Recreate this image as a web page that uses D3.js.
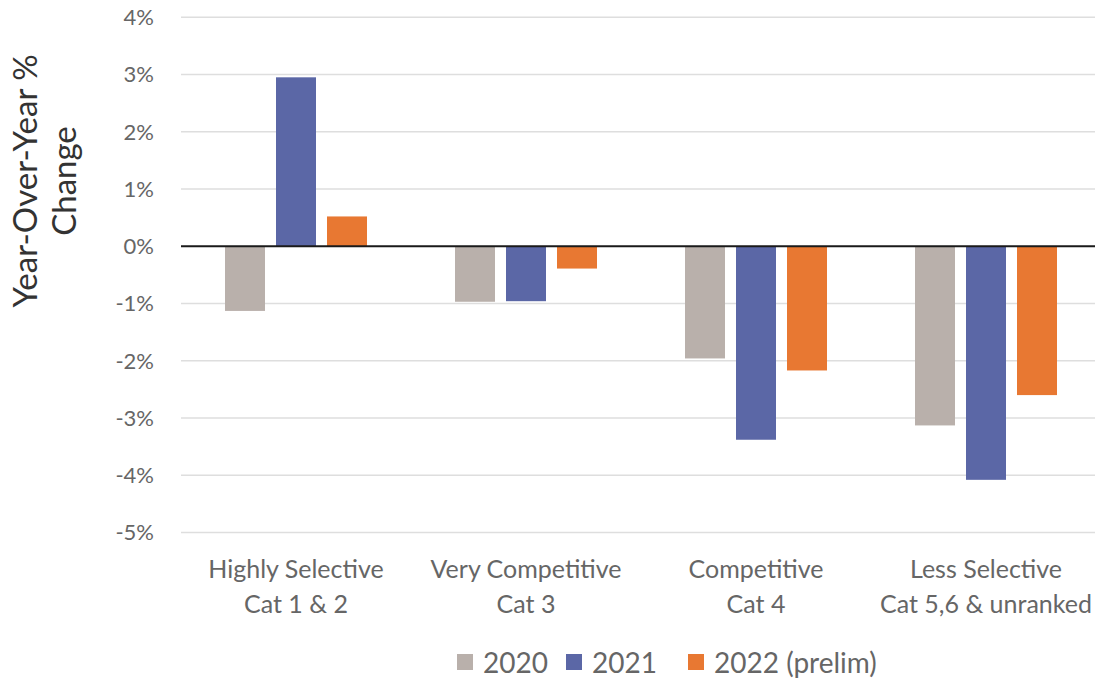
<!DOCTYPE html>
<html lang="en">
<head>
    <meta charset="UTF-8">
    <title>Year-Over-Year % Change</title>
    <script src="https://cdnjs.cloudflare.com/ajax/libs/d3/7.8.5/d3.min.js"></script>
    <style>
        body { margin: 0; background: #fff; }
        text { font-family: Lato, "Open Sans", sans-serif; }
    </style>
</head>
<body>
    <div id="chart"></div>
    <script>
        // data
        var categories = ["Highly Selective|Cat 1 & 2", "Very Competitive|Cat 3", "Competitive|Cat 4", "Less Selective|Cat 5,6 & unranked"];
        var seriesNames = ["2020", "2021", "2022 (prelim)"];
        var values2020 = [-1.13, -0.97, -1.96, -3.13];
        var values2021 = [2.95, -0.96, -3.38, -4.08];
        var values2022 = [0.52, -0.39, -2.17, -2.60];
        var yTicks = [4, 3, 2, 1, 0, -1, -2, -3, -4, -5];
        var colors = ["#b9b0ab", "#5b67a6", "#e87832"];

        var width = 1095, height = 683;
        var series = [values2020, values2021, values2022];

        var svg = d3.select("#chart").append("svg")
            .attr("width", width)
            .attr("height", height);

        var y = d3.scaleLinear().domain([-5, 4]).range([532.5, 17.2]);
        var x = d3.scaleBand().domain(categories).range([181, 1101]);
        var xInner = d3.scaleBand().domain(seriesNames).range([0, x.bandwidth()])
            .paddingInner(11 / 51).paddingOuter(0.8627);

        // gridlines
        svg.append("g").selectAll("line")
            .data(yTicks.filter(function(d) { return d != 0; }))
            .enter().append("line")
            .attr("x1", 181).attr("x2", width)
            .attr("y1", function(d) { return y(d); })
            .attr("y2", function(d) { return y(d); })
            .attr("stroke", "#dedede")
            .attr("stroke-width", 1.5);

        // y tick labels
        svg.append("g").selectAll("text")
            .data(yTicks)
            .enter().append("text")
            .attr("x", 154)
            .attr("y", function(d) { return y(d); })
            .attr("dy", "0.36em")
            .attr("text-anchor", "end")
            .attr("fill", "#666")
            .style("font-size", "22px")
            .text(function(d) { return d + "%"; });

        // bars
        var groups = svg.append("g").selectAll("g")
            .data(series)
            .enter().append("g")
            .attr("fill", function(d, i) { return colors[i]; });

        groups.selectAll("rect")
            .data(function(d, i) {
                return d.map(function(v, j) { return {cat: categories[j], name: seriesNames[i], value: v}; });
            })
            .enter().append("rect")
            .attr("x", function(d) { return x(d.cat) + xInner(d.name); })
            .attr("width", xInner.bandwidth())
            .attr("y", function(d) { return y(Math.max(0, d.value)); })
            .attr("height", function(d) { return Math.abs(y(d.value) - y(0)); });

        // zero line
        svg.append("line")
            .attr("x1", 181).attr("x2", width)
            .attr("y1", y(0)).attr("y2", y(0))
            .attr("stroke", "#1a1a1a")
            .attr("stroke-width", 2);

        // category labels
        var catLabels = svg.append("g").selectAll("text")
            .data(categories)
            .enter().append("text")
            .attr("text-anchor", "middle")
            .attr("fill", "#666")
            .style("font-size", "25px");

        catLabels.each(function(d) {
            var lines = d.split("|");
            var t = d3.select(this);
            lines.forEach(function(l, i) {
                t.append("tspan")
                    .attr("x", x(d) + x.bandwidth() / 2)
                    .attr("y", 578 + i * 35)
                    .text(l);
            });
        });

        // y axis title
        var title = svg.append("text")
            .attr("transform", "translate(46,181) rotate(-90)")
            .attr("text-anchor", "middle")
            .attr("fill", "#333")
            .style("font-size", "33px");
        title.append("tspan").attr("x", 0).attr("y", -9).text("Year-Over-Year %");
        title.append("tspan").attr("x", 0).attr("y", 30).text("Change");

        // legend
        var legendX = [457, 566, 688];
        var legend = svg.append("g").selectAll("g")
            .data(seriesNames)
            .enter().append("g")
            .attr("transform", function(d, i) { return "translate(" + legendX[i] + ",0)"; });

        legend.append("rect")
            .attr("y", 654)
            .attr("width", 16)
            .attr("height", 16)
            .attr("fill", function(d, i) { return colors[i]; });

        legend.append("text")
            .attr("x", 26)
            .attr("y", 673)
            .attr("fill", "#666")
            .style("font-size", "28px")
            .text(function(d) { return d; });
    </script>
</body>
</html>
